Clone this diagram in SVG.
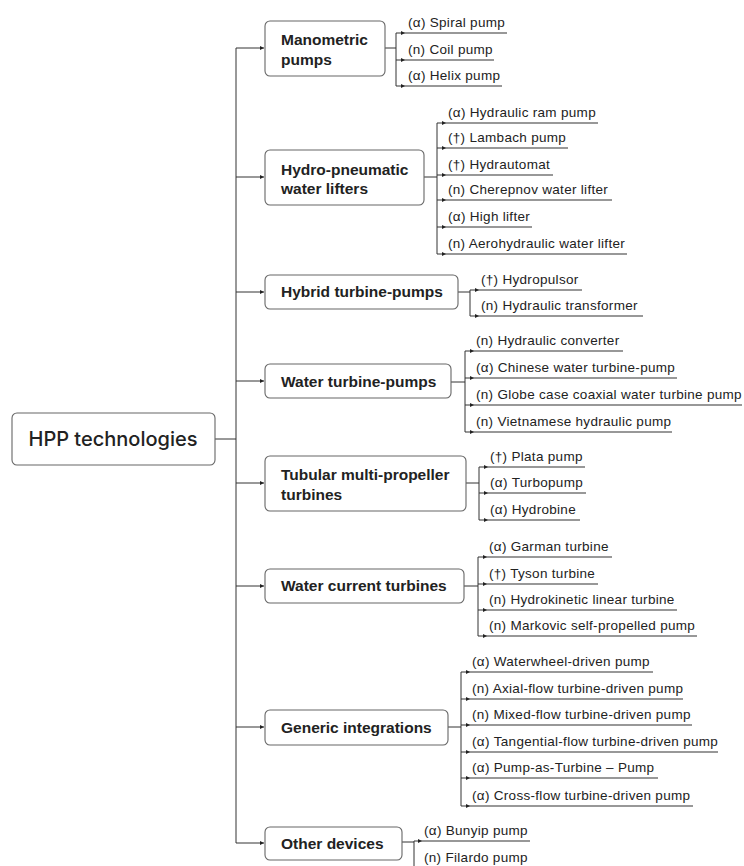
<svg xmlns="http://www.w3.org/2000/svg" width="744" height="866" viewBox="0 0 744 866">
<defs>
<marker id="ah" viewBox="0 0 6 6" refX="6" refY="3" markerWidth="4.5" markerHeight="4.5" markerUnits="userSpaceOnUse" orient="auto">
<path d="M0,0 L6,3 L0,6 z" fill="#222"/>
</marker>
<style>
.box{fill:#fff;stroke:#666;stroke-width:1.1}
.root{font-family:Inter,"Liberation Sans",sans-serif;font-size:20px;font-weight:500;fill:#222}
.cat{font-family:"Liberation Sans",Arial,sans-serif;font-size:15.5px;font-weight:bold;fill:#222}
.leaf{font-family:"Liberation Sans",Arial,sans-serif;font-size:13.5px;letter-spacing:0.3px;fill:#222}
.ul{stroke:#333;stroke-width:1.2;fill:none}
.c{stroke:#333;stroke-width:1;fill:none}
.ca{stroke:#333;stroke-width:1;fill:none;marker-end:url(#ah)}
</style>
</defs>
<rect width="744" height="866" fill="#fff"/>

<g id="connectors">
<path class="c" d="M215,439 H236 M236,48 V843"/>
<path class="ca" d="M236,48 H264"/>
<path class="ca" d="M236,177 H264"/>
<path class="ca" d="M236,292 H264"/>
<path class="ca" d="M236,381 H264"/>
<path class="ca" d="M236,483 H264"/>
<path class="ca" d="M236,586 H264"/>
<path class="ca" d="M236,727 H264"/>
<path class="ca" d="M236,843 H264"/>
<path class="c" d="M385,48 H396 M396,33 V86"/>
<path class="ca" d="M396,33 H405"/><path class="ca" d="M396,60 H405"/><path class="ca" d="M396,86 H405"/>
<path class="c" d="M424,177 H437 M437,123 V254"/>
<path class="ca" d="M437,123 H446"/><path class="ca" d="M437,148 H446"/><path class="ca" d="M437,175 H446"/>
<path class="ca" d="M437,200 H446"/><path class="ca" d="M437,227 H446"/><path class="ca" d="M437,254 H446"/>
<path class="c" d="M458,292 H470 M470,290 V316"/>
<path class="ca" d="M470,290 H479"/><path class="ca" d="M470,316 H479"/>
<path class="c" d="M451,382 H465 M465,351 V432"/>
<path class="ca" d="M465,351 H474"/><path class="ca" d="M465,378 H474"/><path class="ca" d="M465,405 H474"/><path class="ca" d="M465,432 H474"/>
<path class="c" d="M466,483 H479 M479,467 V520"/>
<path class="ca" d="M479,467 H488"/><path class="ca" d="M479,493 H488"/><path class="ca" d="M479,520 H488"/>
<path class="c" d="M464,586 H478 M478,557 V636"/>
<path class="ca" d="M478,557 H487"/><path class="ca" d="M478,584 H487"/><path class="ca" d="M478,610 H487"/><path class="ca" d="M478,636 H487"/>
<path class="c" d="M448,727 H461 M461,672 V806"/>
<path class="ca" d="M461,672 H470"/><path class="ca" d="M461,699 H470"/><path class="ca" d="M461,725 H470"/>
<path class="ca" d="M461,752 H470"/><path class="ca" d="M461,778 H470"/><path class="ca" d="M461,806 H470"/>
<path class="c" d="M402,842 H414 M414,841 V870"/>
<path class="ca" d="M414,841 H422"/><path class="ca" d="M414,868 H422"/>
</g>

<g id="root">
<rect class="box" x="12" y="413" width="203" height="52" rx="5"/>
<text class="root" x="113" y="446" text-anchor="middle">HPP technologies</text>
</g>

<g id="manometric">
<rect class="box" x="265" y="21" width="120" height="55" rx="5"/>
<text class="cat" x="281" y="45">Manometric</text>
<text class="cat" x="281" y="65">pumps</text>
</g>
<g id="m1"><text class="leaf" x="408" y="27">(α) Spiral pump</text><path class="ul" d="M405,33 H507"/></g>
<g id="m2"><text class="leaf" x="408" y="54">(n) Coil pump</text><path class="ul" d="M405,60 H494"/></g>
<g id="m3"><text class="leaf" x="408" y="80">(α) Helix pump</text><path class="ul" d="M405,86 H502"/></g>

<g id="hydro">
<rect class="box" x="265" y="150" width="159" height="55" rx="5"/>
<text class="cat" x="281" y="175">Hydro-pneumatic</text>
<text class="cat" x="281" y="194">water lifters</text>
</g>
<g id="h1"><text class="leaf" x="448" y="117">(α) Hydraulic ram pump</text><path class="ul" d="M446,123 H598"/></g>
<g id="h2"><text class="leaf" x="448" y="142">(†) Lambach pump</text><path class="ul" d="M446,148 H568"/></g>
<g id="h3"><text class="leaf" x="448" y="169">(†) Hydrautomat</text><path class="ul" d="M446,175 H553"/></g>
<g id="h4"><text class="leaf" x="448" y="194">(n) Cherepnov water lifter</text><path class="ul" d="M446,200 H612"/></g>
<g id="h5"><text class="leaf" x="448" y="221">(α) High lifter</text><path class="ul" d="M446,227 H532"/></g>
<g id="h6"><text class="leaf" x="448" y="248">(n) Aerohydraulic water lifter</text><path class="ul" d="M446,254 H627"/></g>

<g id="hybrid">
<rect class="box" x="265" y="275" width="193" height="34" rx="5"/>
<text class="cat" x="281" y="297">Hybrid turbine-pumps</text>
</g>
<g id="y1"><text class="leaf" x="481" y="284">(†) Hydropulsor</text><path class="ul" d="M479,290 H582"/></g>
<g id="y2"><text class="leaf" x="481" y="310">(n) Hydraulic transformer</text><path class="ul" d="M479,316 H643"/></g>

<g id="wtp">
<rect class="box" x="265" y="364" width="186" height="34" rx="5"/>
<text class="cat" x="281" y="387">Water turbine-pumps</text>
</g>
<g id="w1"><text class="leaf" x="476" y="345">(n) Hydraulic converter</text><path class="ul" d="M474,351 H623"/></g>
<g id="w2"><text class="leaf" x="476" y="372">(α) Chinese water turbine-pump</text><path class="ul" d="M474,378 H677"/></g>
<g id="w3"><text class="leaf" x="476" y="399">(n) Globe case coaxial water turbine pump</text><path class="ul" d="M474,405 H742"/></g>
<g id="w4"><text class="leaf" x="476" y="426">(n) Vietnamese hydraulic pump</text><path class="ul" d="M474,432 H672"/></g>

<g id="tubular">
<rect class="box" x="265" y="456" width="201" height="55" rx="5"/>
<text class="cat" x="281" y="480">Tubular multi-propeller</text>
<text class="cat" x="281" y="500">turbines</text>
</g>
<g id="t1"><text class="leaf" x="490" y="461">(†) Plata pump</text><path class="ul" d="M488,467 H585"/></g>
<g id="t2"><text class="leaf" x="490" y="487">(α) Turbopump</text><path class="ul" d="M488,493 H586"/></g>
<g id="t3"><text class="leaf" x="490" y="514">(α) Hydrobine</text><path class="ul" d="M488,520 H580"/></g>

<g id="wct">
<rect class="box" x="265" y="569" width="199" height="34" rx="5"/>
<text class="cat" x="281" y="591">Water current turbines</text>
</g>
<g id="c1"><text class="leaf" x="489" y="551">(α) Garman turbine</text><path class="ul" d="M487,557 H612"/></g>
<g id="c2"><text class="leaf" x="489" y="578">(†) Tyson turbine</text><path class="ul" d="M487,584 H598"/></g>
<g id="c3"><text class="leaf" x="489" y="604">(n) Hydrokinetic linear turbine</text><path class="ul" d="M487,610 H677"/></g>
<g id="c4"><text class="leaf" x="489" y="630">(n) Markovic self-propelled pump</text><path class="ul" d="M487,636 H697"/></g>

<g id="generic">
<rect class="box" x="265" y="710" width="183" height="35" rx="5"/>
<text class="cat" x="281" y="733">Generic integrations</text>
</g>
<g id="g1"><text class="leaf" x="472" y="666">(α) Waterwheel-driven pump</text><path class="ul" d="M470,672 H653"/></g>
<g id="g2"><text class="leaf" x="472" y="693">(n) Axial-flow turbine-driven pump</text><path class="ul" d="M470,699 H683"/></g>
<g id="g3"><text class="leaf" x="472" y="719">(n) Mixed-flow turbine-driven pump</text><path class="ul" d="M470,725 H692"/></g>
<g id="g4"><text class="leaf" x="472" y="746">(α) Tangential-flow turbine-driven pump</text><path class="ul" d="M470,752 H718"/></g>
<g id="g5"><text class="leaf" x="472" y="772">(α) Pump-as-Turbine – Pump</text><path class="ul" d="M470,778 H658"/></g>
<g id="g6"><text class="leaf" x="472" y="800">(α) Cross-flow turbine-driven pump</text><path class="ul" d="M470,806 H693"/></g>

<g id="other">
<rect class="box" x="265" y="827" width="137" height="33" rx="5"/>
<text class="cat" x="281" y="849">Other devices</text>
</g>
<g id="o1"><text class="leaf" x="424" y="835">(α) Bunyip pump</text><path class="ul" d="M422,841 H530"/></g>
<g id="o2"><text class="leaf" x="424" y="862">(n) Filardo pump</text><path class="ul" d="M422,868 H525"/></g>
</svg>
